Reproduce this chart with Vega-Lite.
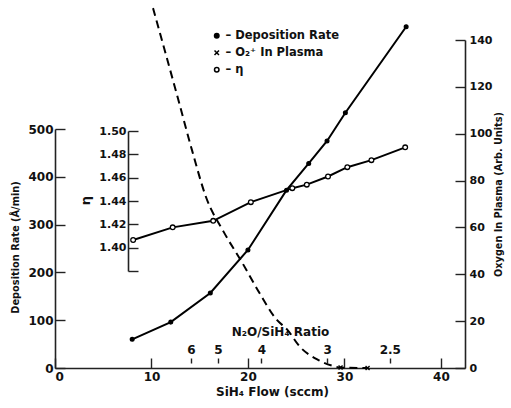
{
  "$schema": "https://vega.github.io/schema/vega-lite/v6.json",
  "width": 410,
  "height": 368,
  "autosize": "none",
  "padding": {"left": 55, "top": 0, "right": 46, "bottom": 40},
  "background": "white",
  "config": {
    "view": {"stroke": null},
    "axis": {
      "grid": false,
      "labelFont": "DejaVu Sans",
      "labelFontWeight": "bold",
      "labelFontSize": 12,
      "labelColor": "#111",
      "titleFont": "DejaVu Sans",
      "titleFontWeight": "bold",
      "titleFontSize": 11,
      "titleColor": "#111",
      "domainColor": "#222",
      "domainWidth": 1.6,
      "tickColor": "#222",
      "tickWidth": 1.4
    },
    "legend": {
      "labelFont": "DejaVu Sans",
      "labelFontWeight": "bold",
      "labelFontSize": 11.5,
      "labelColor": "#111"
    }
  },
  "datasets": {
    "dep": [
      {"flow": 8.0, "rate": 60, "series": "– Deposition Rate"},
      {"flow": 12.0, "rate": 96, "series": "– Deposition Rate"},
      {"flow": 16.1, "rate": 157, "series": "– Deposition Rate"},
      {"flow": 20.0, "rate": 247, "series": "– Deposition Rate"},
      {"flow": 24.0, "rate": 372, "series": "– Deposition Rate"},
      {"flow": 26.3, "rate": 428, "series": "– Deposition Rate"},
      {"flow": 28.2, "rate": 475, "series": "– Deposition Rate"},
      {"flow": 30.1, "rate": 534, "series": "– Deposition Rate"},
      {"flow": 36.4, "rate": 714, "series": "– Deposition Rate"}
    ],
    "eta": [
      {"flow": 8.1, "eta": 1.4066, "series": "– η"},
      {"flow": 12.2, "eta": 1.4174, "series": "– η"},
      {"flow": 16.4, "eta": 1.423, "series": "– η"},
      {"flow": 20.3, "eta": 1.439, "series": "– η"},
      {"flow": 24.6, "eta": 1.451, "series": "– η"},
      {"flow": 26.1, "eta": 1.454, "series": "– η"},
      {"flow": 28.3, "eta": 1.461, "series": "– η"},
      {"flow": 30.3, "eta": 1.469, "series": "– η"},
      {"flow": 32.8, "eta": 1.475, "series": "– η"},
      {"flow": 36.3, "eta": 1.486, "series": "– η"}
    ],
    "o2": [
      {"flow": 10.16, "o2": 153.6},
      {"flow": 12.65, "o2": 116.5},
      {"flow": 14.2, "o2": 93},
      {"flow": 15.65, "o2": 73},
      {"flow": 17.5, "o2": 58},
      {"flow": 19.4, "o2": 45},
      {"flow": 21.2, "o2": 32},
      {"flow": 23.0, "o2": 20.5},
      {"flow": 24.05, "o2": 16.5},
      {"flow": 25.4, "o2": 9.0},
      {"flow": 27.3, "o2": 3.4},
      {"flow": 28.8, "o2": 0.9},
      {"flow": 29.6, "o2": 0.2},
      {"flow": 32.4, "o2": 0}
    ],
    "o2m": [
      {"flow": 29.6, "o2": 0.2, "series": "– O₂⁺ In Plasma"},
      {"flow": 32.4, "o2": 0, "series": "– O₂⁺ In Plasma"}
    ]
  },
  "layer": [
    {
      "data": {"name": "dep"},
      "encoding": {
        "x": {
          "field": "flow", "type": "quantitative",
          "scale": {"domain": [0, 42.5], "nice": false, "zero": false},
          "axis": {
            "orient": "bottom",
            "values": [0, 10, 20, 30, 40],
            "tickSize": -10,
            "labelPadding": 13,
            "title": "SiH₄ Flow (sccm)",
            "titleFontSize": 12,
            "titleX": 217,
            "titlePadding": 4
          }
        },
        "y": {
          "field": "rate", "type": "quantitative",
          "scale": {"domain": [0, 500], "range": [368, 129], "nice": false, "zero": false},
          "axis": {
            "orient": "left",
            "values": [0, 100, 200, 300, 400, 500],
            "tickSize": -10,
            "labelPadding": 12,
            "title": "Deposition Rate (Å/min)",
            "titleFontSize": 9.8,
            "titleX": -40,
            "titleY": 247,
            "titleBaseline": "middle",
            "titleAlign": "center"
          }
        }
      },
      "layer": [
        {"mark": {"type": "line", "color": "black", "strokeWidth": 2}},
        {
          "mark": {"type": "point", "stroke": "black", "strokeWidth": 1.3, "opacity": 1, "size": 14},
          "encoding": {
            "shape": {
              "field": "series", "type": "nominal",
              "scale": {"domain": ["– Deposition Rate", "– O₂⁺ In Plasma", "– η"], "range": ["circle", "M-1,-1L1,1M-1,1L1,-1", "circle"]},
              "legend": {
                "orient": "none", "legendX": 156, "legendY": 30, "title": null, "rowPadding": 4, "labelOffset": 3, "symbolSize": 20,
                "encode": {"symbols": {"update": {"stroke": {"value": "black"}, "strokeWidth": {"value": 1.3}}}}
              }
            },
            "fill": {
              "field": "series", "type": "nominal",
              "scale": {"domain": ["– Deposition Rate", "– O₂⁺ In Plasma", "– η"], "range": ["black", "transparent", "white"]},
              "legend": {
                "orient": "none", "legendX": 156, "legendY": 30, "title": null, "rowPadding": 4, "labelOffset": 3, "symbolSize": 20,
                "encode": {"symbols": {"update": {"stroke": {"value": "black"}, "strokeWidth": {"value": 1.3}}}}
              }
            }
          }
        }
      ]
    },
    {
      "data": {"name": "eta"},
      "encoding": {
        "x": {
          "field": "flow", "type": "quantitative",
          "scale": {"domain": [0, 42.5], "nice": false, "zero": false},
          "axis": {
            "orient": "top",
            "offset": -363,
            "domain": false,
            "values": [14.1, 16.9, 21.4, 28.2, 34.7],
            "labelExpr": "datum.value < 15 ? '6' : datum.value < 18 ? '5' : datum.value < 25 ? '4' : datum.value < 30 ? '3' : '2.5'",
            "tickSize": 5,
            "labelPadding": 2,
            "title": "N₂O/SiH₄  Ratio",
            "titleFontSize": 12,
            "titleX": 225,
            "titlePadding": 5
          }
        },
        "y": {
          "field": "eta", "type": "quantitative",
          "scale": {"domain": [1.38, 1.5], "range": [271, 131], "nice": false, "zero": false},
          "axis": {
            "orient": "left",
            "offset": -73,
            "values": [1.38, 1.4, 1.42, 1.44, 1.46, 1.48, 1.5],
            "labelExpr": "datum.value < 1.39 ? '' : format(datum.value, '.2f')",
            "tickSize": -10,
            "labelPadding": 12,
            "labelFontSize": 11,
            "title": "η",
            "titleFontSize": 13,
            "titleX": -43,
            "titleY": 200,
            "titleBaseline": "middle",
            "titleAlign": "center"
          }
        }
      },
      "layer": [
        {"mark": {"type": "line", "color": "black", "strokeWidth": 2}},
        {
          "mark": {"type": "point", "stroke": "black", "strokeWidth": 1.3, "opacity": 1, "size": 22},
          "encoding": {
            "shape": {"field": "series", "type": "nominal"},
            "fill": {"field": "series", "type": "nominal"}
          }
        }
      ]
    },
    {
      "data": {"name": "o2"},
      "encoding": {
        "x": {
          "field": "flow", "type": "quantitative",
          "scale": {"domain": [0, 42.5], "nice": false, "zero": false},
          "axis": null
        },
        "y": {
          "field": "o2", "type": "quantitative",
          "scale": {"domain": [0, 140], "range": [368, 40], "nice": false, "zero": false},
          "axis": {
            "orient": "right",
            "values": [0, 20, 40, 60, 80, 100, 120, 140],
            "tickSize": -10,
            "labelPadding": 14,
            "labelFontSize": 11,
            "title": "Oxygen In Plasma (Arb. Units)",
            "titleAngle": 270,
            "titleFontSize": 9.7,
            "titleX": 33,
            "titleY": 194,
            "titleBaseline": "middle",
            "titleAlign": "center"
          }
        }
      },
      "layer": [
        {"mark": {"type": "line", "color": "black", "strokeWidth": 2, "strokeDash": [8, 5], "interpolate": "monotone"}},
        {
          "data": {"name": "o2m"},
          "mark": {"type": "point", "stroke": "black", "strokeWidth": 1.3, "opacity": 1, "size": 16},
          "encoding": {
            "shape": {"field": "series", "type": "nominal"},
            "fill": {"field": "series", "type": "nominal"}
          }
        }
      ]
    }
  ],
  "resolve": {"scale": {"y": "independent"}, "axis": {"y": "independent", "x": "independent"}}
}
